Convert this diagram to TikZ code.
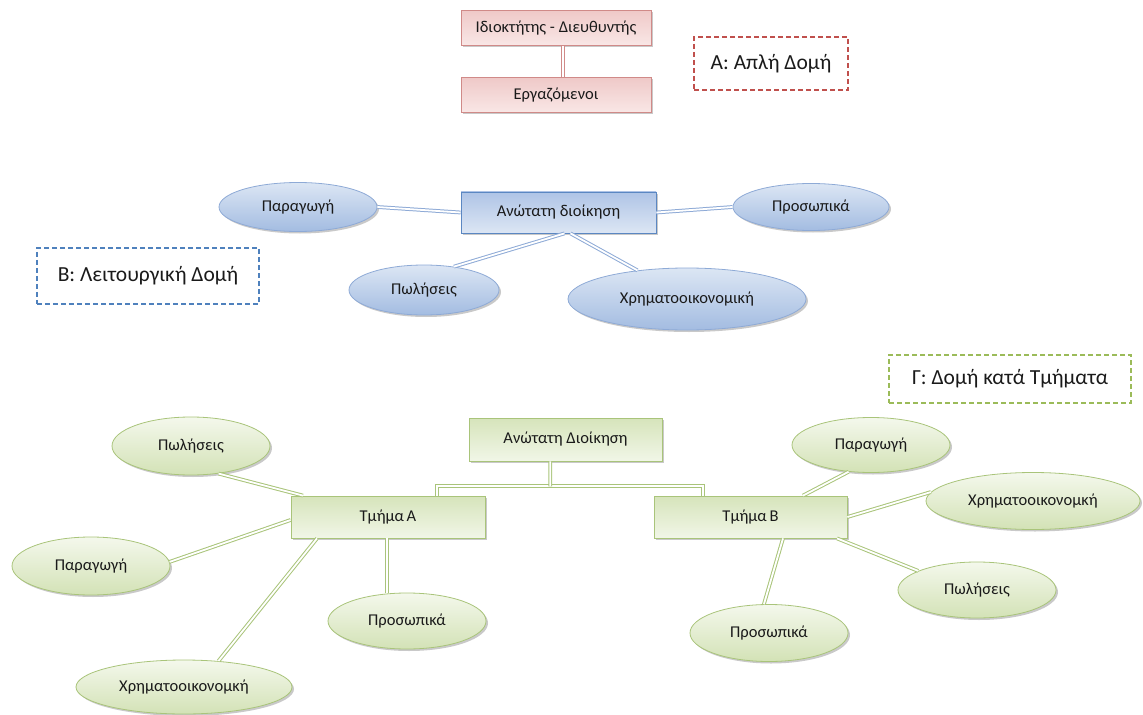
\documentclass[tikz,border=0pt]{standalone}
\usepackage{fontspec}
\setmainfont{Carlito}
\usetikzlibrary{shapes.geometric,shadows,calc}

% palette
\definecolor{aTop}{HTML}{EFC9C8}
\definecolor{aBot}{HTML}{F9E7E6}
\definecolor{aLine}{HTML}{D08A88}
\definecolor{aDash}{HTML}{C0504D}
\definecolor{bTop}{HTML}{DCE6F4}
\definecolor{bBot}{HTML}{A3BCE1}
\definecolor{bLine}{HTML}{8EAAD6}
\definecolor{bRectTop}{HTML}{AFC4E6}
\definecolor{bRectBot}{HTML}{DCE6F4}
\definecolor{bRectLine}{HTML}{5B87C2}
\definecolor{bDash}{HTML}{4F81BD}
\definecolor{gTop}{HTML}{F4F8EC}
\definecolor{gBot}{HTML}{D3E2B6}
\definecolor{gRectTop}{HTML}{D6E4BB}
\definecolor{gRectBot}{HTML}{F1F6E7}
\definecolor{gLine}{HTML}{A9C47A}
\definecolor{gDash}{HTML}{9BBB59}
\definecolor{ink}{HTML}{1A1A1A}

\tikzset{
  nshadow/.style={drop shadow={shadow xshift=2bp, shadow yshift=-2bp, opacity=0.3, fill=black!70}},
  lbl/.style={font=\fontsize{16.5bp}{18bp}\selectfont, text=ink, inner sep=0pt},
  boxA/.style={lbl, rectangle, draw=aLine, line width=0.8bp, top color=aTop, bottom color=aBot,
    minimum width=190bp, minimum height=35bp, nshadow},
  rectB/.style={lbl, rectangle, draw=bRectLine, line width=0.8bp, top color=bRectTop, bottom color=bRectBot,
    minimum width=195bp, minimum height=41bp, nshadow},
  ellB/.style={lbl, ellipse, draw=bLine, line width=0.8bp, top color=bTop, bottom color=bBot, nshadow},
  rectG/.style={lbl, rectangle, draw=gLine, line width=0.8bp, top color=gRectTop, bottom color=gRectBot,
    minimum width=194bp, minimum height=42bp, nshadow},
  ellG/.style={lbl, ellipse, draw=gLine, line width=0.8bp, top color=gTop, bottom color=gBot, nshadow},
  tag/.style={font=\fontsize{21.5bp}{23bp}\selectfont, text=ink, inner sep=0pt, draw=#1,
    line width=1.2bp, dash pattern=on 5bp off 3bp},
  link/.style={draw=#1, line width=1bp, double=white, double distance=1.8bp},
}

\begin{document}
\begin{tikzpicture}[x=1bp, y=-1bp]
\useasboundingbox (0,0) rectangle (1143,715);

% ---------- A: simple structure ----------
\node[boxA] (own) at (556,28) {Ιδιοκτήτης - Διευθυντής};
\node[boxA] (emp) at (556,95) {Εργαζόμενοι};
\draw[link=aLine] ($(own.south)+(7.3,0)$) -- ($(emp.north)+(7.3,0)$);
\node[tag=aDash, minimum width=154bp, minimum height=53bp] (tagA) at (771,63.5) {Α: Απλή Δομή};

% ---------- B: functional structure ----------
\node[rectB] (topB) at (558.5,212.5) {Ανώτατη διοίκηση};
\node[ellB, minimum width=158bp, minimum height=49bp] (prB) at (298,207) {Παραγωγή};
\node[ellB, minimum width=156bp, minimum height=47bp] (psB) at (811,207) {Προσωπικά};
\node[ellB, minimum width=150bp, minimum height=50bp] (pwB) at (424,290) {Πωλήσεις};
\node[ellB, minimum width=238bp, minimum height=62bp] (xrB) at (687,299) {Χρηματοοικονομική};
\draw[link=bLine] (prB.east) -- (topB.west);
\draw[link=bLine] (topB.east) -- (psB.west);
\draw[link=bLine] ([xshift=6bp]topB.south) -- (pwB.38);
\draw[link=bLine] ([xshift=12bp]topB.south) -- (xrB.150);
\node[tag=bDash, minimum width=222bp, minimum height=56bp] (tagB) at (148,276) {Β: Λειτουργική Δομή};

% ---------- Γ: divisional structure ----------
\node[tag=gDash, minimum width=242bp, minimum height=48bp] (tagG) at (1010,379) {Γ: Δομή κατά Τμήματα};

\node[rectG, minimum width=193bp, minimum height=43bp] (topG) at (565.5,439.5) {Ανώτατη Διοίκηση};
\node[rectG] (depA) at (388,517) {Τμήμα\,Α};
\node[rectG, minimum width=193bp] (depB) at (750.5,517) {Τμήμα\,Β};

\coordinate (split) at (550.3,486.3);
\draw[link=gLine] ($(depA.north)+(49.3,0)$) |- (split) -| ($(depB.north)+(-47.3,0)$);
\draw[link=gLine] (split) -- ($(topG.south)+(-15.2,0)$);

% department A units
\node[ellG, minimum width=158bp, minimum height=58bp] (pwA) at (191,446) {Πωλήσεις};
\node[ellG, minimum width=158bp, minimum height=58bp] (prA) at (91,566) {Παραγωγή};
\node[ellG, minimum width=158bp, minimum height=56bp] (psA) at (407,621) {Προσωπικά};
\node[ellG, minimum width=216bp, minimum height=54bp] (xrA) at (184,687) {Χρηματοοικονομκή};
\draw[link=gLine] (pwA.-45) -- ([xshift=-85bp]depA.north);
\draw[link=gLine] (prA.3) -- ([yshift=-3bp]depA.west);
\draw[link=gLine] (xrA.37) -- ([xshift=-71bp]depA.south);
\draw[link=gLine] ($(depA.south)+(-0.7,0)$) -- ($(depA.south |- psA.north)+(-0.7,0)$);

% department B units
\node[ellG, minimum width=158bp, minimum height=55bp] (prC) at (871,445) {Παραγωγή};
\node[ellG, minimum width=214bp, minimum height=57bp] (xrC) at (1033,501) {Χρηματοοικονομκή};
\node[ellG, minimum width=158bp, minimum height=56bp] (pwC) at (977,590) {Πωλήσεις};
\node[ellG, minimum width=158bp, minimum height=57bp] (psC) at (769,633) {Προσωπικά};
\draw[link=gLine] ([xshift=52.5bp]depB.north) -- (prC.-130);
\draw[link=gLine] (depB.east) -- (xrC.175);
\draw[link=gLine] ([xshift=86.5bp]depB.south) -- (pwC.162);
\draw[link=gLine] ([xshift=32.5bp]depB.south) -- (psC.100);
\end{tikzpicture}
\end{document}
